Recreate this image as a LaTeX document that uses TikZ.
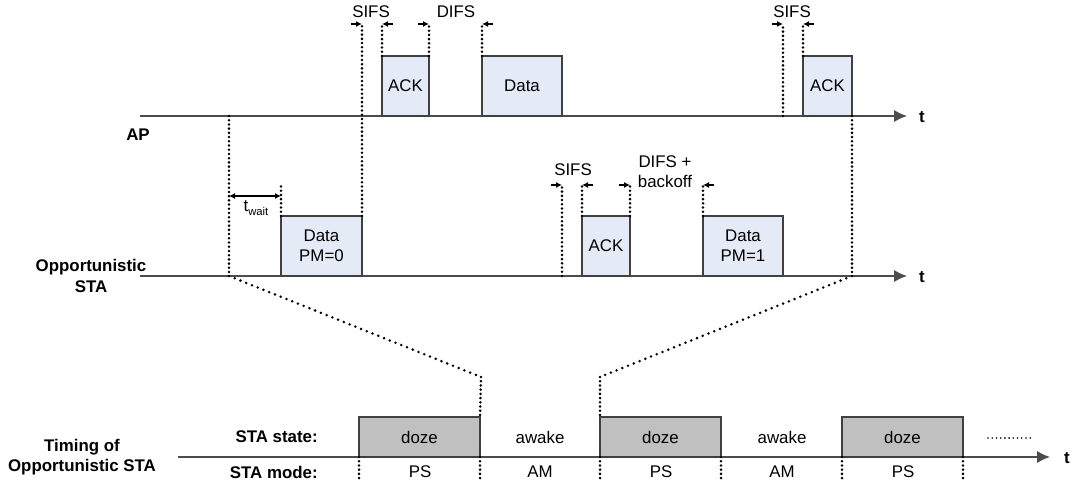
\documentclass[tikz,border=0pt]{standalone}
\usepackage{fontspec}
\setmainfont{Liberation Sans}
\usetikzlibrary{arrows.meta}
\definecolor{pktfill}{RGB}{229,235,246}
\definecolor{dozefill}{RGB}{192,192,192}
\begin{document}
\begin{tikzpicture}[x=0.25mm,y=-0.25mm,
  font=\fontsize{12pt}{14.5pt}\selectfont,
  axis/.style={draw=black!70, line width=0.35mm, -{Latex[length=3.2mm,width=3mm]}},
  pkt/.style={draw=black!75, line width=0.3mm, fill=pktfill, inner sep=0pt, outer sep=0pt,
    anchor=south west, align=center, minimum height=15mm},
  dozebox/.style={draw=black!75, line width=0.3mm, fill=dozefill, inner sep=0pt, outer sep=0pt,
    anchor=south west, minimum width=30.25mm, minimum height=10mm},
  dotline/.style={line width=2pt, line cap=round, dash pattern=on 0pt off 3pt},
  diagline/.style={line width=2pt, line cap=round, dash pattern=on 0pt off 4.4pt},
  fineline/.style={line width=1.3pt, line cap=round, dash pattern=on 0pt off 3pt},
  gaparrow/.style={line width=0.3mm, -{Latex[length=1.5mm,width=1.5mm]}},
  spanarrow/.style={line width=0.3mm, {Latex[length=1.5mm,width=1.5mm]}-{Latex[length=1.5mm,width=1.5mm]}},
  lbl/.style={inner sep=0pt, align=center},
  head/.style={inner sep=0pt, align=center, font=\fontsize{12pt}{14.5pt}\selectfont\bfseries},
]
\useasboundingbox (0,0) rectangle (1076,484);

% time axes
\coordinate (apL) at (140,116);  \coordinate (apR) at (907,116);
\coordinate (stL) at (140,276);  \coordinate (stR) at (907,276);
\coordinate (btL) at (178,457);  \coordinate (btR) at (1050,457);
\draw[axis] (apL) -- (apR);
\draw[axis] (stL) -- (stR);
\draw[axis] (btL) -- (btR);
\node[head] (tap) at (922,117) {t};
\node[head] (tst) at (922,277) {t};
\node[head] (tbt) at (1067,458) {t};

% row labels
\node[head, anchor=east] (aplbl) at (150,135) {AP};
\node[head] (stlbl) at (91,276) {Opportunistic\\STA};
\node[head] (tmlbl) at (82,457) {Timing of\\Opportunistic STA};
\node[head, anchor=east] (statelbl) at (318,437) {STA state:};
\node[head, anchor=east] (modelbl) at (318,472) {STA mode:};

% frames sent by the AP
\node[pkt, minimum width=11.75mm] (ack1) at (382,116) {ACK};
\node[pkt, minimum width=20mm] (data1) at (482,116) {Data};
\node[pkt, minimum width=12.25mm] (ack2) at (803,116) {ACK};

% frames sent by the station
\node[pkt, minimum width=20.25mm] (dpm0) at (281,276) {Data\\PM=0};
\node[pkt, minimum width=12mm] (ack3) at (582,276) {ACK};
\node[pkt, minimum width=20mm] (dpm1) at (703,276) {Data\\PM=1};

% power-state timeline
\node[dozebox] (doze1) at (359,457) {doze};
\node[dozebox] (doze2) at (600,457) {doze};
\node[dozebox] (doze3) at (842,457) {doze};
\node[lbl] (awake1) at (540,437) {awake};
\node[lbl] (awake2) at (782,437) {awake};
\node[lbl] (ps1) at (420,472) {PS};
\node[lbl] (am1) at (540,472) {AM};
\node[lbl] (ps2) at (661,472) {PS};
\node[lbl] (am2) at (782,472) {AM};
\node[lbl] (ps3) at (903,472) {PS};
\draw[fineline] (988,438) -- (1033,438);

% interframe spaces on the AP line
\coordinate (lvlA) at (0,24);
\coordinate (sifsB) at (783,116);
\draw[dotline] (dpm0.north east) -- (dpm0.north east |- lvlA);
\draw[dotline] (ack1.north west) -- (ack1.north west |- lvlA);
\draw[dotline] (ack1.north east) -- (ack1.north east |- lvlA);
\draw[dotline] (data1.north west) -- (data1.north west |- lvlA);
\draw[dotline] (sifsB) -- (sifsB |- lvlA);
\draw[dotline] (ack2.north west) -- (ack2.north west |- lvlA);

\coordinate (a1) at (dpm0.north east |- lvlA);
\coordinate (a2) at (ack1.north west |- lvlA);
\coordinate (a3) at (ack1.north east |- lvlA);
\coordinate (a4) at (data1.north west |- lvlA);
\coordinate (a5) at (sifsB |- lvlA);
\coordinate (a6) at (ack2.north west |- lvlA);
\draw[gaparrow] ([xshift=-2.8mm]a1) -- (a1);
\draw[gaparrow] ([xshift=2.8mm]a2) -- (a2);
\draw[gaparrow] ([xshift=-2.8mm]a3) -- (a3);
\draw[gaparrow] ([xshift=2.8mm]a4) -- (a4);
\draw[gaparrow] ([xshift=-2.8mm]a5) -- (a5);
\draw[gaparrow] ([xshift=2.8mm]a6) -- (a6);
\node[lbl] (sifs1) at (371,12) {SIFS};
\node[lbl] (difs1) at (456,12) {DIFS};
\node[lbl] (sifs2) at (792,12) {SIFS};

% interframe spaces on the station line
\coordinate (lvlB) at (0,185);
\coordinate (sifsC) at (562,276);
\draw[dotline] (sifsC) -- (sifsC |- lvlB);
\draw[dotline] (ack3.north west) -- (ack3.north west |- lvlB);
\draw[dotline] (ack3.north east) -- (ack3.north east |- lvlB);
\draw[dotline] (dpm1.north west) -- (dpm1.north west |- lvlB);
\coordinate (b1) at (sifsC |- lvlB);
\coordinate (b2) at (ack3.north west |- lvlB);
\coordinate (b3) at (ack3.north east |- lvlB);
\coordinate (b4) at (dpm1.north west |- lvlB);
\draw[gaparrow] ([xshift=-2.8mm]b1) -- (b1);
\draw[gaparrow] ([xshift=2.8mm]b2) -- (b2);
\draw[gaparrow] ([xshift=-2.8mm]b3) -- (b3);
\draw[gaparrow] ([xshift=2.8mm]b4) -- (b4);
\node[lbl] (sifs3) at (573,170) {SIFS};
\node[lbl] (difsbo) at (665,172) {DIFS +\\backoff};

% waiting time before the first frame
\coordinate (wake) at (229,116);
\coordinate (wakeS) at (229,276);
\coordinate (tw) at (0,196);
\draw[dotline] (dpm0.north west) -- (dpm0.north west |- 0,186);
\draw[spanarrow] (wake |- tw) -- (dpm0.north west |- tw);
\node[lbl] (twait) at (256,208) {t\raisebox{-0.45ex}{\fontsize{8pt}{9pt}\selectfont wait}};

% mapping of the exchange onto the power-state timeline
\coordinate (lzoom) at (481,377);
\coordinate (rzoom) at (600,377);
\coordinate (ackS) at (ack2.south east |- stR);
\draw[dotline] (wake) -- (wakeS);
\draw[diagline] (wakeS) -- (lzoom);
\draw[dotline] (lzoom) -- (doze1.north east);
\draw[dotline] (ack2.south east) -- (ackS);
\draw[diagline] (ackS) -- (rzoom);
\draw[dotline] (rzoom) -- (doze2.north west);

% mode boundaries
\foreach \b in {doze1,doze2,doze3}{
  \draw[dotline] (\b.south west) -- ++(0,25);
  \draw[dotline] (\b.south east) -- ++(0,25);
}
\end{tikzpicture}
\end{document}
